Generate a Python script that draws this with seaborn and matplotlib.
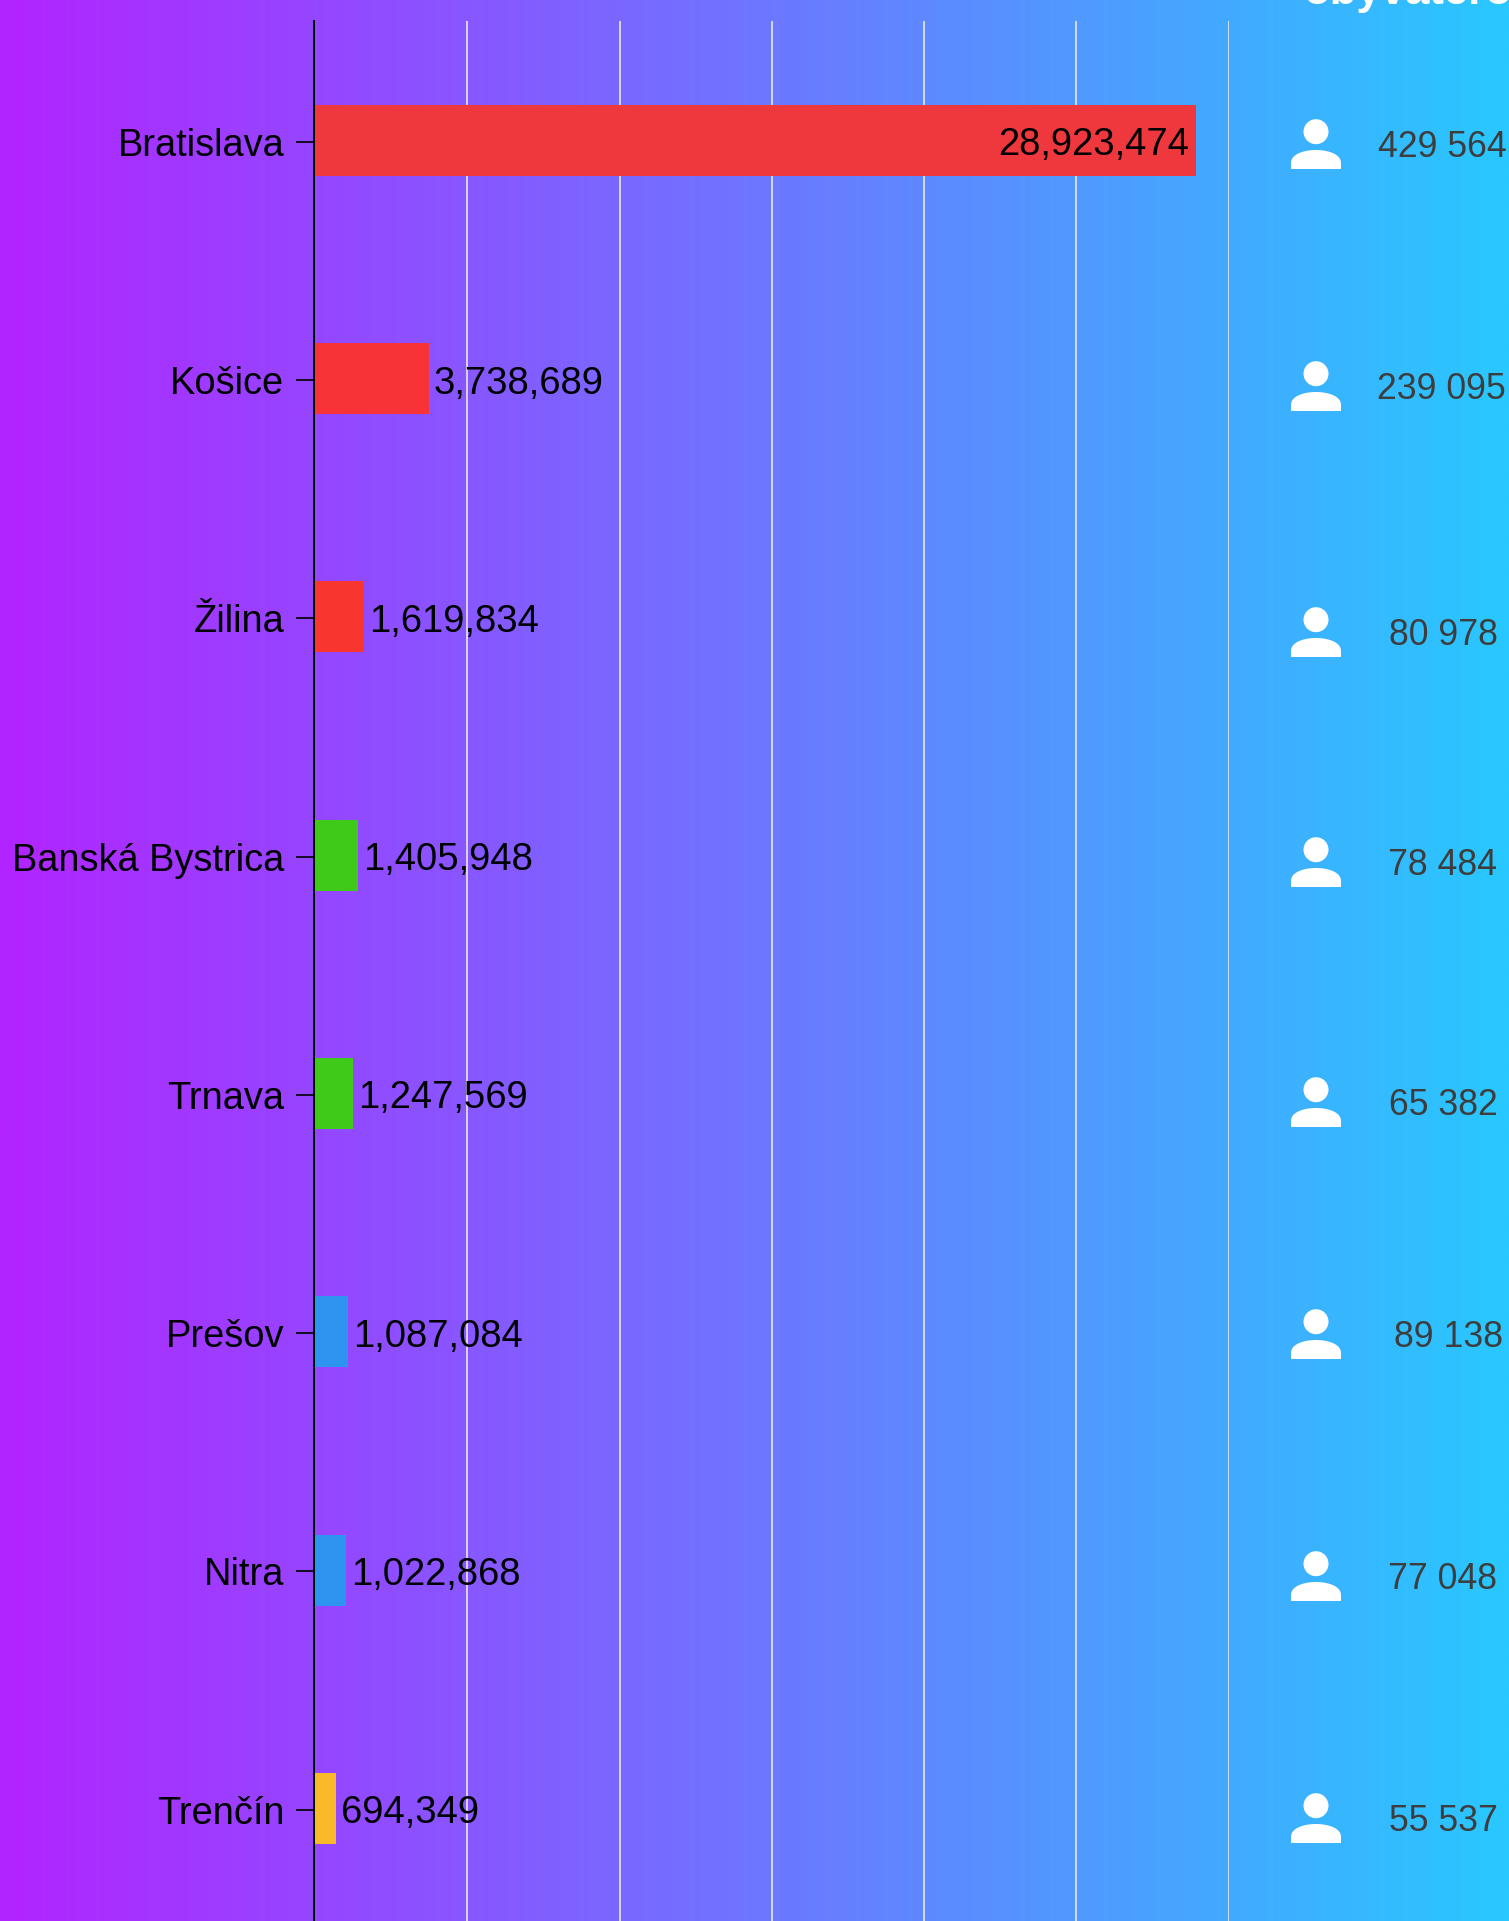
import numpy as np
import pandas as pd
import matplotlib.pyplot as plt
import seaborn as sns
from matplotlib.colors import LinearSegmentedColormap
from matplotlib.patches import Circle, Polygon

# hodnoty z grafu
cities = ['Bratislava', 'Košice', 'Žilina', 'Banská Bystrica', 'Trnava', 'Prešov', 'Nitra', 'Trenčín']
values = [28923474, 3738689, 1619834, 1405948, 1247569, 1087084, 1022868, 694349]
residents = ['429 564', '239 095', '80 978', '78 484', '65 382', '89 138', '77 048', '55 537']
bar_colors = ['#ef373e', '#f73337', '#f93530', '#3fca1a', '#3fca1a', '#2d95ef', '#2d95ef', '#f9b928']
x_ticks = [0, 5000000, 10000000, 15000000, 20000000, 25000000, 30000000]

W, H = 1509, 1921
df = pd.DataFrame({'city': cities, 'value': values})

sns.set_style('white')
plt.rcParams['font.family'] = ['Liberation Sans', 'DejaVu Sans']

fig = plt.figure(figsize=(W / 100, H / 100), dpi=100)

# pozadie - gradient cez celu plochu
bg = fig.add_axes([0, 0, 1, 1], zorder=0)
cmap = LinearSegmentedColormap.from_list('bg', ['#b224ff', '#29c8ff'])
bg.imshow(np.linspace(0, 1, 512).reshape(1, -1), cmap=cmap, aspect='auto', extent=(0, W, H, 0))
bg.set_xlim(0, W)
bg.set_ylim(H, 0)
bg.axis('off')

ax = fig.add_axes([315 / W, 0, (1228.5 - 315) / W, 1 - 21 / H], zorder=1)
ax.patch.set_alpha(0)
sns.barplot(data=df, y='city', x='value', hue='city', palette=bar_colors, legend=False,
            width=0.298, saturation=1, linewidth=0, ax=ax, zorder=3)
ax.set_xlim(0, 30000000)
ax.set_ylim(7.4727, -0.5006)
ax.set_xlabel('')
ax.set_ylabel('')
ax.set_xticks(x_ticks)
# popisky su o kusok nizsie nez stred stlpca
ax.set_yticks(np.arange(len(cities)) + 0.006, cities)
ax.tick_params(axis='x', bottom=False, labelbottom=False)
ax.tick_params(axis='y', left=True, length=13, width=1.2, color='black', pad=8.5, labelsize=27.4, labelcolor='black')
for v in x_ticks[1:]:
    ax.axvline(v, color='#e8e8e8', lw=1.2, zorder=1)
for s in ['top', 'right', 'bottom']:
    ax.spines[s].set_visible(False)
ax.spines['left'].set_color('black')
ax.spines['left'].set_linewidth(1.44)
ax.spines['left'].set_position(('outward', 0.7))

# popisky hodnot
for i, v in enumerate(values):
    label = f'{v:,}'
    if i == 0:
        ax.annotate(label, (v, i), xytext=(-5, -0.7), textcoords='offset points', ha='right', va='center_baseline',
                    fontsize=27.5, color='black', zorder=4)
    else:
        ax.annotate(label, (v, i), xytext=(3.6, -0.7), textcoords='offset points', ha='left', va='center_baseline',
                    fontsize=27.5, color='black', zorder=4)

# stlpec s obyvatelmi (ikona + cislo)
icon_y = [144, 386, 632, 862, 1102, 1334, 1576, 1818]
text_x = [1442.5, 1441, 1443, 1443, 1443, 1448, 1443, 1443]
dome = np.linspace(np.pi, 2 * np.pi, 60)
for y, tx, txt in zip(icon_y, text_x, residents):
    bg.add_patch(Circle((1316, y - 12.3), 12.5, color='white', lw=0))
    pts = np.column_stack([1316 + 25 * np.cos(dome), y + 19.5 - 13.5 * np.abs(np.sin(dome)) ** 0.85])
    pts = np.vstack([[1291, y + 25], pts, [1341, y + 25]])
    bg.add_patch(Polygon(pts, closed=True, color='white', lw=0))
    bg.text(tx, y + 13, txt, ha='center', va='baseline', fontsize=25.7, color='#3d3d3d')

# nadpis stlpca je v originali orezany hornym okrajom
bg.text(1303, 4, 'obyvateľov', ha='left', va='baseline', fontsize=31.5, fontweight='bold', color='white')

plt.savefig('out.png', dpi=100)
